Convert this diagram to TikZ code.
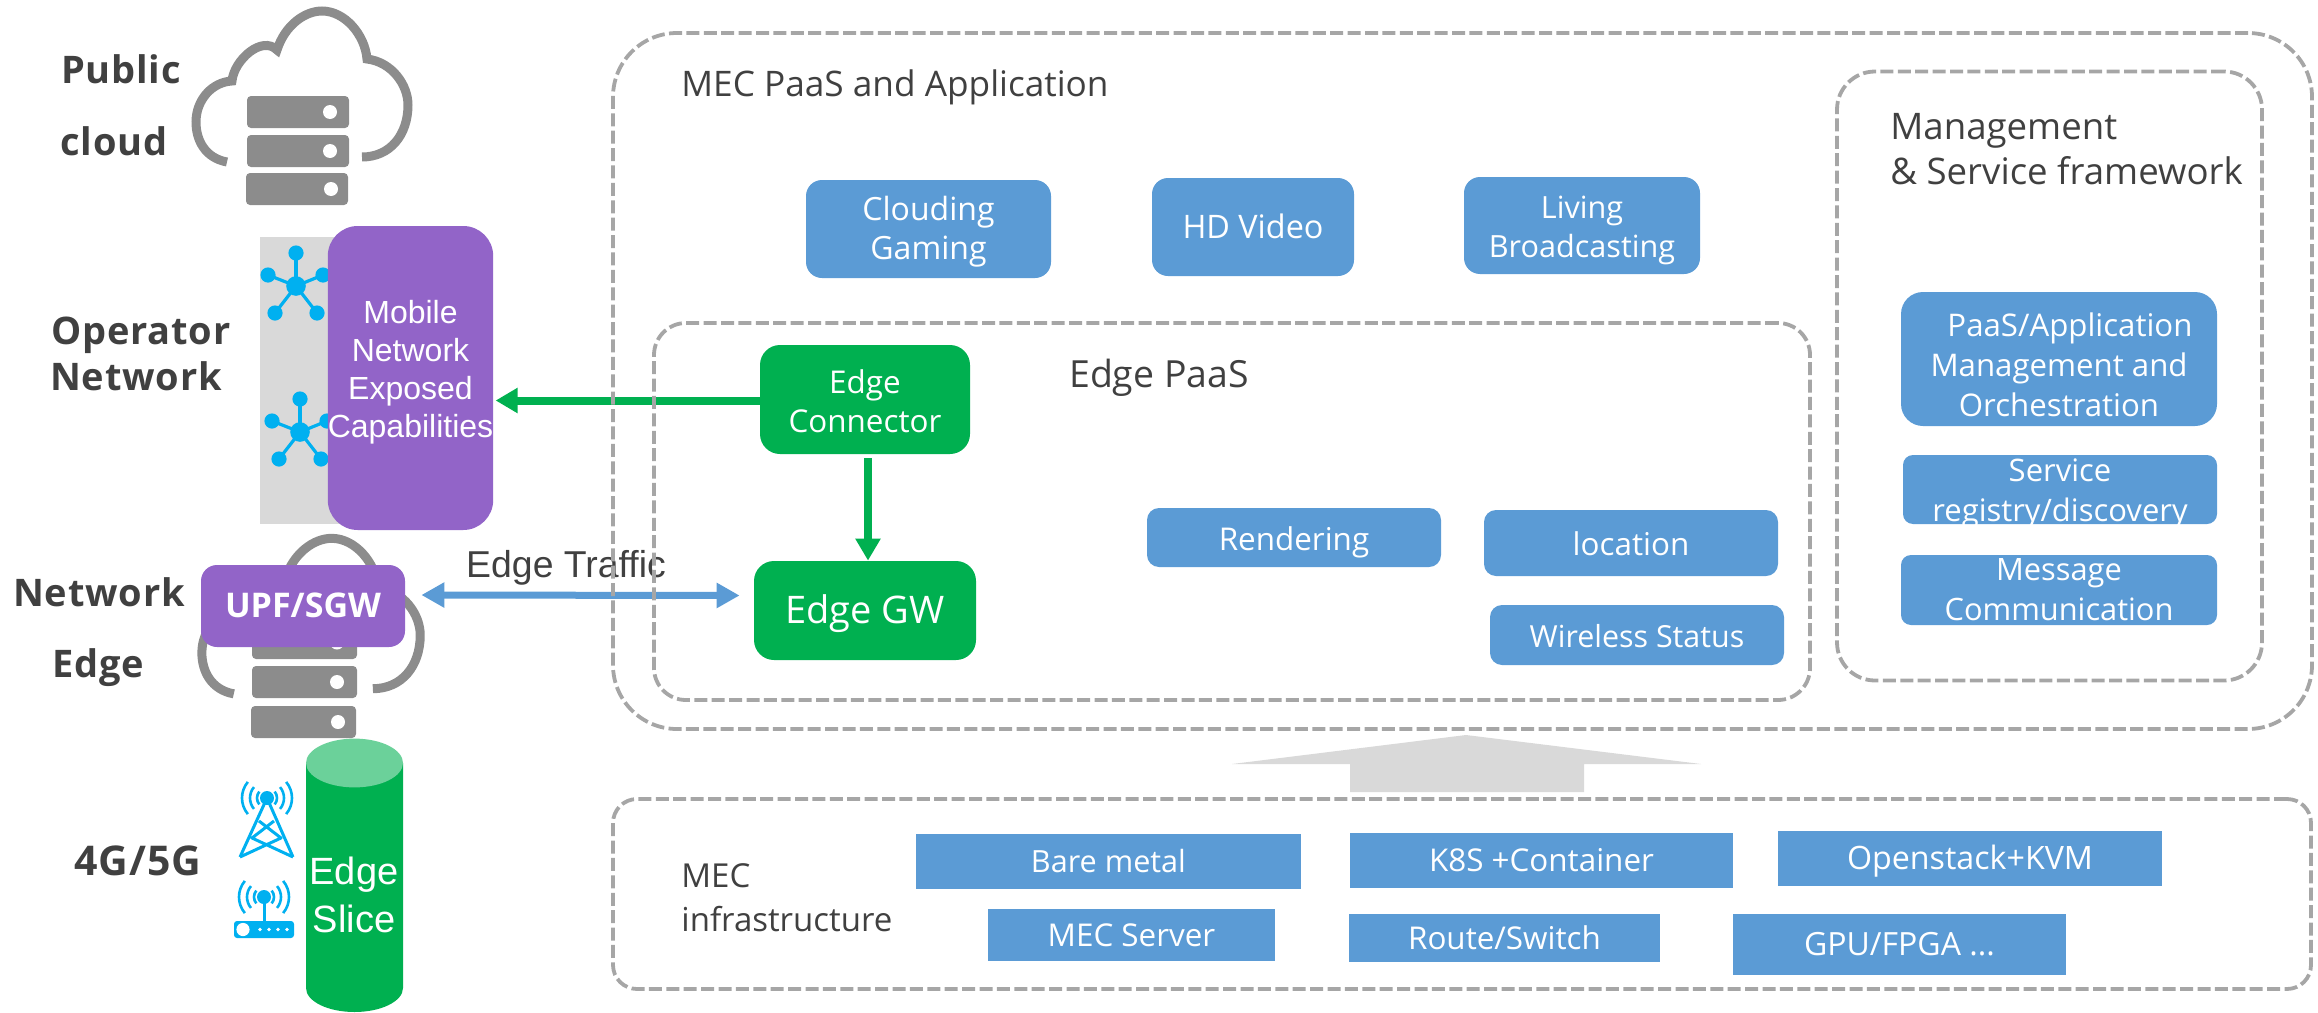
\documentclass[tikz,border=0pt]{standalone}
\usepackage{fontspec}
\usetikzlibrary{arrows.meta,calc}
\setmainfont{Open Sans}
\newfontfamily\arialf{Liberation Sans}
\newfontfamily\labf[LetterSpace=2]{Open Sans}
\definecolor{mecblue}{HTML}{5B9BD5}
\definecolor{mecgreen}{HTML}{00B050}
\definecolor{mecpurple}{HTML}{9264C8}
\definecolor{mecgrey}{HTML}{D9D9D9}
\definecolor{meciconGrey}{HTML}{8C8C8C}
\definecolor{mecdash}{HTML}{A6A6A6}
\definecolor{mectext}{HTML}{404040}
\definecolor{meccyan}{HTML}{00B0F0}
\newcommand{\mystrut}{\rule[-.25em]{0pt}{1.2em}}
% style, name, x1, y1, x2, y2, text
\newcommand{\bx}[7]{%
  \pgfmathsetmacro{\bw}{(#5-#3)*.5}\pgfmathsetmacro{\bh}{(#6-#4)*.5}%
  \node[#1,minimum width=\bw pt,minimum height=\bh pt] (#2) at ({(#3+#5)/2},{(#4+#6)/2}) {\mystrut #7\mystrut};}
\newcommand{\cloudpath}{%
  (227,162) .. controls (205,158) and (196,140) .. (196,122) .. controls (196,100) and (212,82) .. (232,81)
  .. controls (234,60) and (262,35) .. (277,50)
  .. controls (285,25) and (305,11) .. (322,11) .. controls (345,11) and (365,35) .. (367,59)
  .. controls (392,62) and (408,85) .. (408,105) .. controls (408,135) and (390,157) .. (362,157)}
\newcommand{\srv}[5]{% x1,y1,x2,y2, dotx
  \fill[meciconGrey,rounded corners=2pt] (#1,#2) rectangle (#3,#4);
  \fill[white] (#5,{(#2+#4)/2}) circle[radius=3.5pt];}
\newcommand{\hub}[2]{%
  \begin{scope}[shift={(#1,#2)}]
    \foreach \dx/\dy in {0/-33,-28/-11,27/-11,-21/27,21/27}{
      \draw[meccyan,line width=1.6pt] (0,0) -- (\dx,\dy);
      \fill[meccyan] (\dx,\dy) circle[radius=3.8pt];}
    \fill[meccyan] (0,0) circle[radius=4.9pt];
  \end{scope}}
\newcommand{\waves}[2]{%
  \foreach \r in {10,17,25}{
    \draw[meccyan,line width=1.3pt] ({#1+\r*cos(40)},{#2-\r*sin(40)}) arc[start angle=40,end angle=-40,radius=\r*.5pt];
    \draw[meccyan,line width=1.3pt] ({#1-\r*cos(40)},{#2-\r*sin(40)}) arc[start angle=140,end angle=220,radius=\r*.5pt];}}
\tikzset{
  dashbox/.style={draw=mecdash,line width=1.9pt,dash pattern=on 6.5pt off 2.2pt,inner sep=0pt},
  bluebox/.style={fill=mecblue,text=white,align=center,inner sep=0pt,font=\fontsize{15.7}{19.5}\selectfont},
  rblue/.style={bluebox,rounded corners=8pt},
  sblue/.style={bluebox},
  greenbox/.style={fill=mecgreen,text=white,align=center,inner sep=0pt,rounded corners=10pt,font=\fontsize{15.7}{19.5}\selectfont},
  purplebox/.style={fill=mecpurple,text=white,align=center,inner sep=0pt},
  title/.style={text=mectext,inner sep=0pt,align=left},
  sidelabel/.style={text=mectext,inner sep=0pt,font=\labf\fontsize{19}{22}\selectfont\bfseries},
  greenarrow/.style={draw=mecgreen,line width=4pt,-{Triangle[length=11pt,width=12pt]}},
  bluearrow/.style={draw=mecblue,line width=3.5pt,{Triangle[length=11.5pt,width=12pt]}-{Triangle[length=11.5pt,width=12pt]}},
}
\begin{document}
\begin{tikzpicture}[x=.5pt,y=-.5pt]
\useasboundingbox (0,0) rectangle (2318,1012);
% public cloud
\draw[meciconGrey,line width=4.5pt] \cloudpath;
\srv{247}{96}{349}{128}{330}
\srv{247}{135}{349}{167}{330}
\srv{246}{173}{348}{205}{331}
\node[sidelabel] (lpublic) at (121,69) {Public};
\node[sidelabel] (lcloud) at (114,141) {cloud};
% operator network
\fill[mecgrey] (260,237) rectangle (370,524);
\hub{296}{286}
\hub{300}{432}
\bx{purplebox,rounded corners=15pt,font=\arialf\fontsize{16}{19}\selectfont}{mobile}{328}{226}{493}{530}{Mobile\\Network\\Exposed\\Capabilities\rule[-12.5pt]{0pt}{0pt}}
\node[sidelabel] (loperator) at (141,335) {Operator};
\node[sidelabel] (lnetwork) at (136,376) {Network};
% network edge cloud
\begin{scope}[shift={(0,527)},xscale=1.03,yscale=1.03]
\draw[meciconGrey,line width=4.5pt] \cloudpath;
\end{scope}
\srv{252}{626}{357}{659}{337}
\srv{252}{666}{357}{698}{337}
\srv{251}{706}{356}{738}{338}
\bx{purplebox,rounded corners=8pt,font=\fontsize{17}{19}\selectfont\bfseries}{upf}{201}{565}{405}{647}{UPF/SGW}
\node[sidelabel] (lnetedge) at (99,592) {Network};
\node[sidelabel] (ledge) at (98,668) {Edge};
% 4G/5G
\node[sidelabel,font=\labf\fontsize{20.5}{22}\selectfont\bfseries] (lfg) at (138,861) {4G/5G};
\waves{267}{798}
\fill[meccyan] (267,798) circle[radius=3.5pt];
\draw[meccyan,line width=1.5pt,line join=round] (240,857) -- (267,798) -- (293,857)
  (240,857) -- (281,838) -- (259,821) (293,857) -- (252,838) -- (274,821);
\waves{264}{897}
\fill[meccyan] (264,897) circle[radius=3.5pt];
\draw[meccyan,line width=1.5pt] (264,897) -- (264,922);
\fill[meccyan,rounded corners=1.5pt] (234,921) rectangle (294,938);
\fill[white] (243,929.5) circle[radius=3.3pt];
\foreach \x in {260,269,278,287}{\fill[white] (\x,929.5) circle[radius=.9pt];}
% edge slice
\fill[mecgreen] (306,763) -- (306,988) arc[start angle=180,end angle=360,x radius=24.25pt,y radius=12pt] -- (403,763) -- cycle;
\fill[mecgreen!58!white] (354.5,763) ellipse[x radius=24.25pt,y radius=12.2pt];
\node[text=white,align=center,inner sep=0pt,font=\arialf\fontsize{19}{22.5}\selectfont] (slice) at (354,895) {\mystrut Edge\\Slice\mystrut};
% application boxes
\node[title,anchor=west,font=\fontsize{17.6}{22}\selectfont] (tmec) at (681,87) {MEC PaaS and Application};
\bx{rblue,font=\fontsize{16}{19.5}\selectfont}{cg}{806}{180}{1051}{278}{Clouding\\Gaming}
\bx{rblue,font=\fontsize{16.2}{19.5}\selectfont}{hd}{1152}{178}{1354}{276}{HD Video}
\bx{rblue,font=\fontsize{15.3}{19.5}\selectfont}{lb}{1464}{177}{1700}{274}{\rule{0pt}{1.05em}Living\\Broadcasting}
% edge paas
\node[title,font=\fontsize{18.7}{22}\selectfont] (tedge) at (1159,378) {Edge PaaS};
\bx{greenbox}{conn}{760}{345}{970}{454}{\rule{0pt}{1.09em}Edge\\Connector}
\bx{greenbox,font=\fontsize{19}{24}\selectfont}{gw}{754}{561}{976}{660}{Edge GW}
\bx{rblue,rounded corners=6pt}{rend}{1147}{508}{1441}{567}{\rule{0pt}{1.05em}Rendering}
\bx{rblue,rounded corners=6pt}{loc}{1484}{510}{1778}{576}{\rule{0pt}{1.05em}location}
\bx{rblue,rounded corners=6pt,font=\fontsize{15.2}{19.5}\selectfont}{wire}{1490}{605}{1784}{665}{\rule{0pt}{1.05em}Wireless Status}
% management
\node[title,anchor=west,font=\fontsize{18.3}{22.5}\selectfont] (tmgmt) at (1890,149) {Management\\\& Service framework};
\bx{rblue,rounded corners=11pt,font=\fontsize{15.6}{20}\selectfont}{pm}{1901}{292}{2217}{426}{\rule{0pt}{1.35em}\hspace*{.7em}PaaS/Application\\Management and\\Orchestration}
\node[fill=mecblue,rounded corners=5pt,inner sep=0pt,minimum width=157pt,minimum height=34.5pt,
  path picture={\node[text=white,align=center,inner sep=0pt,font=\fontsize{15.5}{20}\selectfont] (srvtext) at ($(path picture bounding box.center)+(0pt,-.5pt)$) {\mystrut Service\\registry/discovery\mystrut};}] (sr) at (2060,489.5) {};
\node[rblue,rounded corners=5pt,font=\fontsize{15.4}{20}\selectfont,minimum width=158pt,minimum height=35pt] (mc) at (2059,590) {Message\\Communication};
% infrastructure
\node[title,anchor=west,font=\fontsize{16.5}{22}\selectfont] (tinfra) at (681,898) {MEC\\infrastructure};
\bx{sblue,font=\fontsize{15.3}{19.5}\selectfont}{bm}{916}{834}{1301}{889}{Bare metal}
\bx{sblue}{k8s}{1350}{833}{1733}{888}{K8S +Container}
\bx{sblue,font=\fontsize{16.1}{19.5}\selectfont}{os}{1778}{831}{2162}{886}{Openstack+KVM}
\bx{sblue}{ms}{988}{909}{1275}{961}{MEC Server}
\bx{sblue}{rs}{1349}{914}{1660}{962}{Route/Switch}
\bx{sblue,font=\fontsize{16}{19.5}\selectfont}{gpu}{1733}{914}{2066}{975}{GPU/FPGA ...}
% big arrow
\fill[mecgrey] (1466,735) -- (1701,764) -- (1584,764) -- (1584,792) -- (1350,792) -- (1350,764) -- (1232,764) -- cycle;
% connectors
\draw[greenarrow] ([yshift=-.5pt]conn.west) -- ([xshift=1pt,yshift=-.5pt]conn.west -| mobile.east);
\draw[greenarrow] ([xshift=1.5pt,yshift=-2pt]conn.south) -- ([xshift=1.5pt]gw.north);
\draw[bluearrow] ([xshift=8pt,yshift=5.5pt]upf.east) -- ([xshift=-7pt,yshift=7.5pt]gw.west);
\node[text=mectext,inner sep=0pt,font=\arialf\fontsize{18.7}{22}\selectfont] (traffic) at (566,568) {Edge Traffic};
% dashed frames
\node[dashbox,rounded corners=32pt,minimum width=849.5pt,minimum height=348pt] (mecbox) at (1462.5,381) {};
\node[dashbox,rounded corners=16pt,minimum width=578pt,minimum height=188.5pt] (edgebox) at (1232,511.5) {};
\node[dashbox,rounded corners=19pt,minimum width=212.5pt,minimum height=304.5pt] (mgmtbox) at (2049.5,376) {};
\node[dashbox,rounded corners=12pt,minimum width=849pt,minimum height=95pt] (infbox) at (1462,894) {};
\end{tikzpicture}
\end{document}
